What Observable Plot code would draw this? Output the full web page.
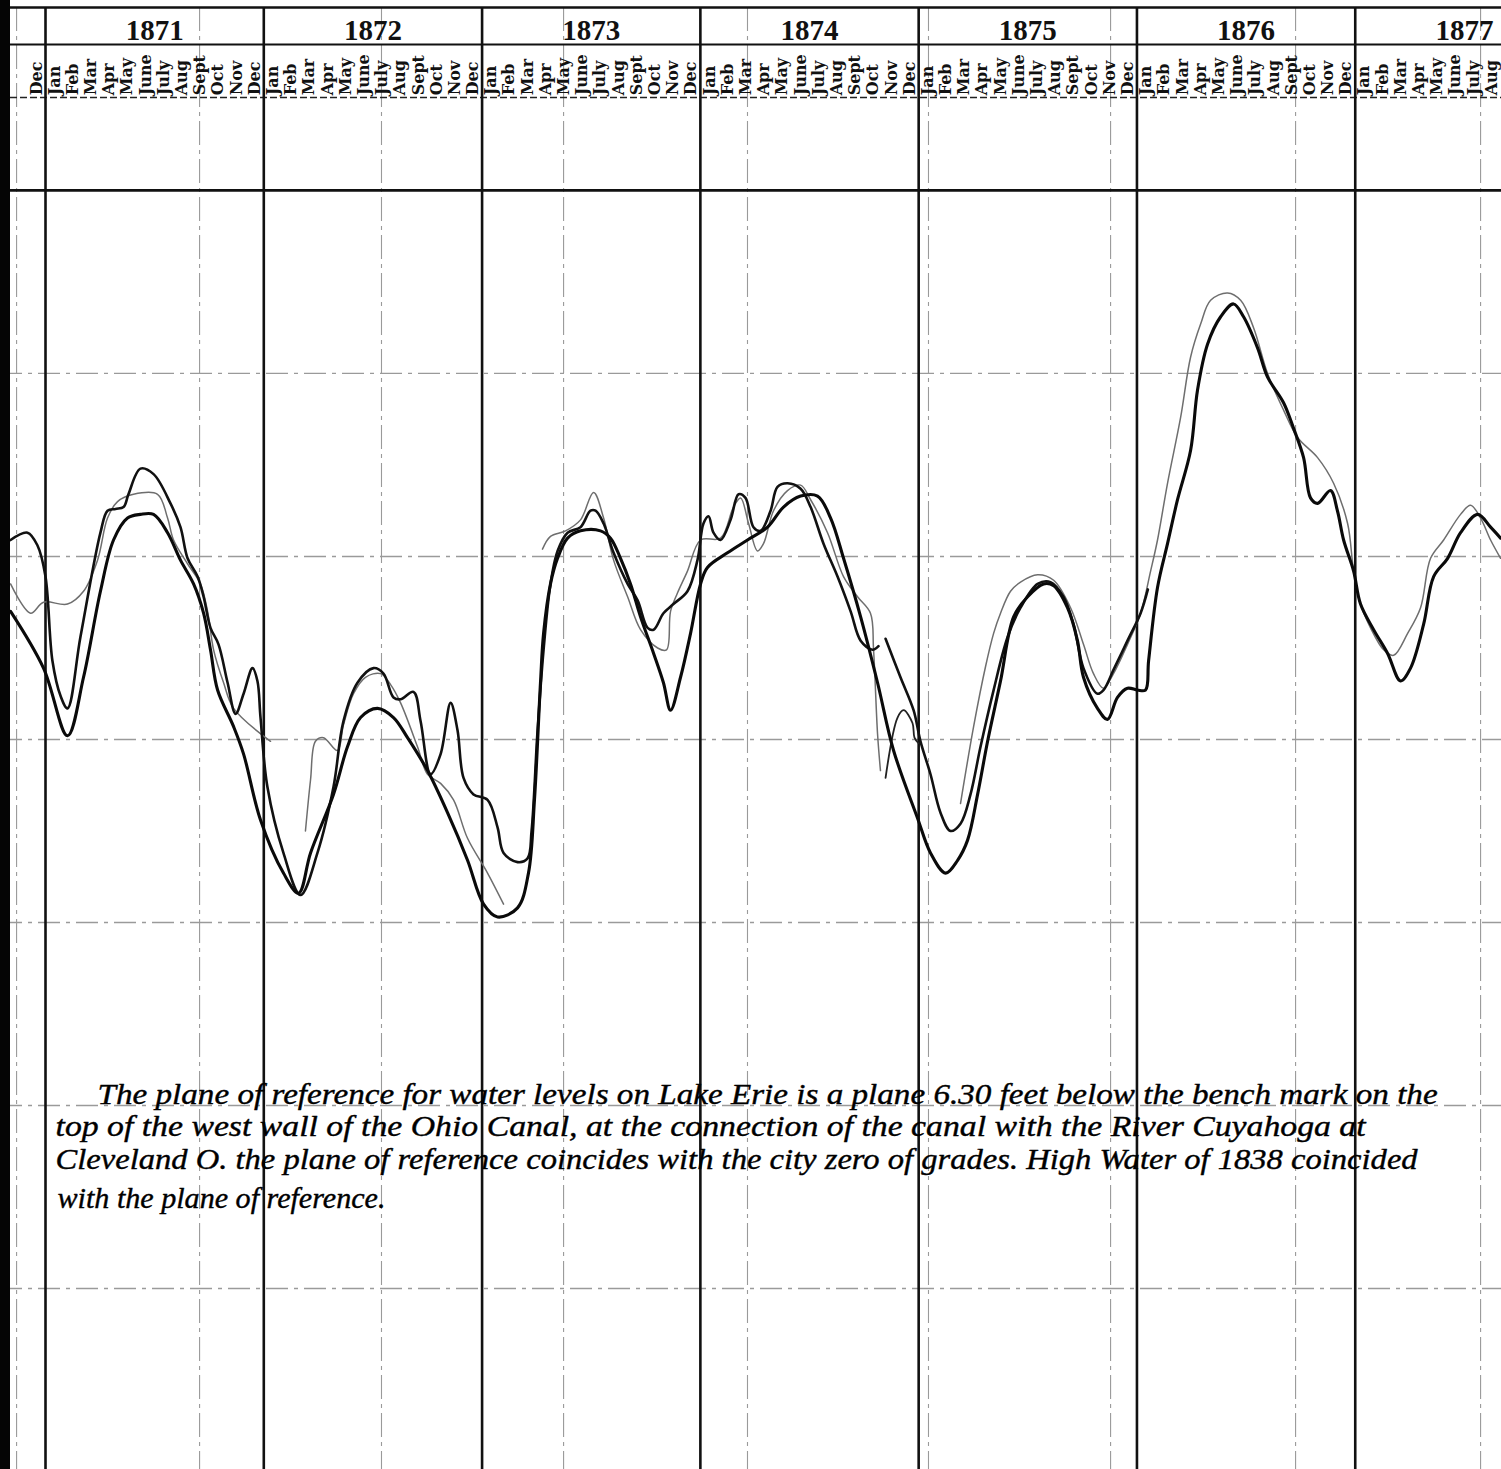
<!DOCTYPE html>
<html><head><meta charset="utf-8">
<script src="https://cdn.jsdelivr.net/npm/d3@7"></script>
<script src="https://cdn.jsdelivr.net/npm/@observablehq/plot@0.6"></script>
<style>
html,body{margin:0;padding:0;background:#fff;}
#wrap{position:relative;width:1501px;height:1469px;overflow:hidden;background:#fff;}
#edge{position:absolute;left:0;top:0;width:10px;height:100%;background:#050505;}
</style></head>
<body><div id="wrap"><div id="chart"></div><div id="edge"></div></div>
<script>
// x = months since 1 Jan 1871, y = feet relative to the plane of reference
const years = [1871, 1872, 1873, 1874, 1875, 1876, 1877];
const monthNames = ["Jan","Feb","Mar","Apr","May","June","July","Aug","Sept","Oct","Nov","Dec"];
const firstMonth = -1, lastMonth = 79;          // Dec 1870 .. Aug 1877
const levelGrid = [-1, -2, -3, -4, -5, -6];     // feet
const paperGrid = [-1.59, 8.47, 18.47, 28.48, 38.59, 48.54, 58.55, 68.72, 78.89];
const headerLevels = {top: 1.0, years: 0.874, yearsRule: 0.798, monthsBase: 0.52, monthsRule: 0.508, plane: 0};

// heavy black curve
const heavy = [[-1.92,-2.30],[-0.11,-2.61],[1.21,-2.98],[2.09,-2.66],[3.02,-2.19],[3.74,-1.91],[4.51,-1.79],[5.22,-1.77],[5.94,-1.77],[6.71,-1.87],[7.42,-2.02],[8.14,-2.15],[8.69,-2.31],[9.07,-2.51],[9.46,-2.73],[10.34,-2.93],[10.89,-3.08],[11.82,-3.44],[13.08,-3.73],[13.91,-3.84],[14.57,-3.62],[15.83,-3.30],[16.60,-3.04],[17.32,-2.88],[18.25,-2.83],[19.13,-2.88],[19.90,-2.99],[21.00,-3.17],[22.10,-3.40],[23.20,-3.66],[24.08,-3.90],[24.85,-3.97],[25.95,-3.92],[26.55,-3.73],[26.88,-3.33],[27.21,-2.69],[27.38,-2.42],[27.76,-2.15],[28.15,-2.01],[28.70,-1.90],[29.41,-1.86],[30.51,-1.86],[31.06,-1.90],[31.61,-2.01],[32.16,-2.15],[32.71,-2.33],[33.43,-2.53],[33.97,-2.69],[34.36,-2.84],[34.91,-2.66],[35.46,-2.42],[36.01,-2.15],[36.39,-2.06],[37.49,-1.98],[38.59,-1.91],[39.69,-1.84],[40.57,-1.73],[41.51,-1.67],[42.44,-1.67],[43.16,-1.79],[43.87,-2.01],[44.81,-2.33],[45.74,-2.69],[46.62,-3.06],[47.94,-3.43],[48.65,-3.62],[49.48,-3.73],[50.14,-3.66],[50.69,-3.55],[51.24,-3.30],[51.79,-3.01],[52.50,-2.68],[53.22,-2.33],[53.99,-2.22],[54.87,-2.15],[55.42,-2.16],[56.18,-2.28],[56.73,-2.46],[57.06,-2.66],[57.83,-2.83],[58.38,-2.89],[58.93,-2.77],[59.48,-2.72],[60.03,-2.73],[60.47,-2.73],[60.64,-2.57],[61.13,-2.17],[61.68,-1.93],[62.23,-1.69],[62.95,-1.42],[63.33,-1.09],[63.88,-0.84],[64.60,-0.69],[65.31,-0.62],[65.86,-0.69],[66.63,-0.86],[67.18,-1.02],[68.06,-1.16],[68.61,-1.30],[69.16,-1.46],[69.54,-1.68],[69.93,-1.71],[70.64,-1.64],[71.02,-1.75],[71.36,-1.91],[71.91,-2.08],[72.29,-2.26],[73.01,-2.40],[73.78,-2.53],[74.49,-2.68],[75.04,-2.61],[75.76,-2.37],[76.31,-2.11],[77.08,-2.01],[77.79,-1.87],[78.73,-1.77],[79.44,-1.84],[79.99,-1.90]];

// second black curve (wavy), two pieces
const wavyA = [[-1.92,-1.91],[-0.99,-1.87],[-0.44,-1.94],[0.00,-2.11],[0.38,-2.57],[0.82,-2.76],[1.21,-2.83],[1.92,-2.44],[3.02,-1.87],[3.41,-1.75],[3.85,-1.74],[4.29,-1.73],[4.56,-1.66],[5.22,-1.52],[5.94,-1.55],[6.87,-1.71],[7.42,-1.84],[7.81,-2.01],[8.36,-2.11],[8.69,-2.22],[9.07,-2.39],[9.51,-2.48],[10.01,-2.69],[10.45,-2.86],[10.89,-2.75],[11.38,-2.61],[11.65,-2.68],[11.82,-2.88],[12.20,-3.26],[13.08,-3.62],[14.02,-3.85],[14.95,-3.62],[15.83,-3.26],[16.38,-2.90],[17.15,-2.69],[18.03,-2.61],[18.58,-2.64],[19.13,-2.77],[19.52,-2.78],[20.23,-2.74],[20.62,-2.90],[21.17,-3.19],[21.72,-3.08],[22.27,-2.80],[22.65,-2.95],[22.98,-3.21],[23.53,-3.30],[24.30,-3.33],[24.85,-3.48],[25.18,-3.62],[25.95,-3.67],[26.50,-3.65],[26.72,-3.50],[27.05,-2.95],[27.38,-2.51],[27.76,-2.15],[28.15,-1.97],[28.70,-1.87],[29.41,-1.84],[29.96,-1.75],[30.24,-1.75],[30.68,-1.82],[31.23,-1.98],[32.00,-2.15],[32.55,-2.24],[33.10,-2.39],[33.43,-2.40],[33.97,-2.31],[34.52,-2.26],[35.29,-2.19],[35.84,-2.02],[36.17,-1.82],[36.45,-1.78],[36.72,-1.87],[37.11,-1.91],[37.66,-1.80],[38.10,-1.66],[38.48,-1.68],[38.92,-1.84],[39.31,-1.86],[39.86,-1.75],[40.24,-1.62],[40.79,-1.60],[41.51,-1.63],[42.06,-1.73],[42.77,-1.93],[43.54,-2.11],[44.26,-2.30],[44.81,-2.46],[45.46,-2.51],[45.79,-2.49]];
const wavyB = [[46.18,-2.45],[47.00,-2.66],[47.72,-2.84],[48.10,-3.01],[48.65,-3.19],[49.20,-3.40],[49.75,-3.50],[50.30,-3.46],[50.85,-3.30],[51.40,-3.04],[52.12,-2.73],[52.89,-2.44],[53.60,-2.28],[54.54,-2.15],[55.25,-2.14],[55.96,-2.22],[56.51,-2.37],[57.06,-2.61],[57.83,-2.75],[58.16,-2.73],[58.71,-2.62],[59.48,-2.46],[60.20,-2.31],[60.60,-2.18]];
const blackFragment = [[46.18,-3.21],[46.84,-2.88],[47.17,-2.84],[47.66,-2.91],[47.77,-2.99],[47.99,-3.02]];

// thin grey curve, four pieces
const grey1 = [[-1.92,-2.15],[-0.82,-2.31],[-0.11,-2.25],[1.21,-2.26],[2.09,-2.19],[2.86,-2.02],[3.41,-1.79],[3.96,-1.70],[4.84,-1.66],[6.16,-1.66],[6.71,-1.79],[7.04,-1.91],[7.81,-2.04],[8.52,-2.15],[8.91,-2.30],[9.24,-2.51],[9.79,-2.69],[10.34,-2.83],[12.37,-3.01]];
const grey2 = [[14.29,-3.50],[14.57,-3.22],[14.84,-3.01],[15.28,-2.99],[16.05,-3.06],[16.38,-2.92],[16.93,-2.75],[17.59,-2.66],[18.42,-2.64],[18.97,-2.70],[19.52,-2.80],[20.45,-3.04],[21.00,-3.19],[21.72,-3.24],[22.43,-3.33],[23.20,-3.54],[24.30,-3.73],[25.18,-3.90]];
const grey3 = [[27.32,-1.96],[27.76,-1.89],[28.59,-1.86],[29.41,-1.80],[30.13,-1.65],[30.68,-1.79],[31.23,-2.02],[32.00,-2.22],[32.71,-2.40],[33.65,-2.50],[34.14,-2.51],[34.36,-2.30],[34.74,-2.20],[35.29,-2.08],[36.01,-1.91],[37.11,-1.90],[37.82,-1.73],[38.21,-1.68],[38.65,-1.82],[39.14,-1.97],[39.47,-1.93],[40.02,-1.75],[40.79,-1.64],[41.51,-1.61],[42.06,-1.69],[42.99,-1.87],[43.87,-2.11],[44.64,-2.22],[45.35,-2.31],[45.52,-2.51],[45.74,-2.97],[45.90,-3.17]];
const grey4 = [[50.30,-3.35],[51.02,-2.93],[51.68,-2.60],[52.12,-2.42],[52.50,-2.31],[53.05,-2.19],[53.60,-2.14],[54.54,-2.10],[55.42,-2.13],[56.35,-2.28],[57.06,-2.48],[57.61,-2.64],[58.16,-2.72],[58.71,-2.64],[59.48,-2.48],[60.20,-2.31],[60.75,-2.08],[61.13,-1.91],[61.68,-1.60],[62.40,-1.24],[62.95,-0.91],[63.50,-0.73],[64.05,-0.60],[64.98,-0.56],[65.70,-0.60],[66.41,-0.75],[67.18,-1.00],[68.06,-1.20],[68.83,-1.35],[69.93,-1.46],[70.81,-1.60],[71.58,-1.82],[71.91,-2.08],[72.29,-2.26],[72.84,-2.39],[73.56,-2.51],[74.11,-2.54],[74.88,-2.42],[75.59,-2.28],[76.14,-2.01],[76.86,-1.91],[77.79,-1.77],[78.34,-1.72],[78.89,-1.79],[79.44,-1.91],[79.99,-2.01]];

const noteLines = [
  "The plane of reference for water levels on Lake Erie is a plane 6.30 feet below the bench mark on the",
  "top of the west wall of the Ohio Canal, at the connection of the canal with the River Cuyahoga at",
  "Cleveland O. the plane of reference coincides with the city zero of grades. High Water of 1838 coincided",
  "with the plane of reference."
];
const noteStart = [2.86, 0.55, 0.55, 0.66];
const noteEnd = [76.53, 72.57, 75.43, 18.69];
const noteBase = [-4.99, -5.165, -5.345, -5.56];

const toRows = (arr, seg) => arr.map(([m, v]) => ({m, v, seg}));
const monthTicks = d3.range(firstMonth, lastMonth + 1).map(i => ({m: i + 0.5, label: monthNames[(i % 12 + 12) % 12]}));
const yearStarts = years.map(y => (y - 1871) * 12);

const yMin = -6.989, yMax = 1.038;
const lineOpts = {x: "m", y: "v", z: "seg", curve: "catmull-rom", strokeLinejoin: "round", strokeLinecap: "round"};

const plot = Plot.plot({
  width: 1501, height: 1469, margin: 0,
  x: {domain: [-2.474, 80.04], axis: null},
  y: {domain: [yMin, yMax], axis: null},
  style: {background: "#fff", overflow: "hidden"},
  marks: [
    Plot.ruleY(levelGrid, {stroke: "#9a9a9a", strokeWidth: 1.3, strokeDasharray: "22,6,4,6"}),
    Plot.ruleX(paperGrid, {y1: headerLevels.top, y2: yMin, stroke: "#9a9a9a", strokeWidth: 1.1, strokeDasharray: "24,5,4,5"}),
    Plot.ruleY([headerLevels.monthsRule], {stroke: "#222", strokeWidth: 1.4, strokeDasharray: "7,3"}),
    Plot.ruleY([headerLevels.top], {stroke: "#111", strokeWidth: 2.6}),
    Plot.ruleY([headerLevels.yearsRule], {stroke: "#111", strokeWidth: 2}),
    Plot.ruleY([headerLevels.plane], {stroke: "#111", strokeWidth: 2.8}),
    Plot.ruleX(yearStarts, {y1: headerLevels.top, y2: yMin, stroke: "#111", strokeWidth: 2.6}),
    Plot.line(toRows(grey1, "g1").concat(toRows(grey2, "g2"), toRows(grey3, "g3"), toRows(grey4, "g4")), {...lineOpts, stroke: "#6e6e6e", strokeWidth: 1.5}),
    Plot.line(toRows(blackFragment, "f1"), {...lineOpts, stroke: "#222", strokeWidth: 1.8}),
    Plot.line(toRows(wavyA, "w1").concat(toRows(wavyB, "w2")), {...lineOpts, stroke: "#111", strokeWidth: 2.6}),
    Plot.line(toRows(heavy, "h"), {...lineOpts, stroke: "#0a0a0a", strokeWidth: 3.1}),
    Plot.text(years, {x: d => (d - 1871) * 12 + 6, y: headerLevels.years, text: d => String(d), fontSize: 29, fontWeight: "bold", fontFamily: "Liberation Serif", fill: "#111"}),
    Plot.text(monthTicks, {x: "m", y: headerLevels.monthsBase, text: "label", rotate: -90, textAnchor: "start", fontSize: 16, fontWeight: "bold", fontFamily: "DejaVu Serif", fill: "#111"}),
    Plot.text(noteLines, {x: (d, i) => noteStart[i], y: (d, i) => noteBase[i], text: d => d, textAnchor: "start", lineAnchor: "bottom", fontSize: 30, fontStyle: "italic", fontFamily: "Liberation Serif", fill: "#000", stroke: "#000", strokeWidth: 0.4})
  ]
});
document.getElementById("chart").appendChild(plot);
const xs = plot.scale("x");
d3.select(plot).selectAll("text").each(function() {
  const i = noteLines.indexOf(this.textContent);
  if (i < 0) return;
  const w = xs.apply(noteEnd[i]) - xs.apply(noteStart[i]);
  this.setAttribute("textLength", w);
  this.setAttribute("lengthAdjust", "spacingAndGlyphs");
});
</script>
</body></html>
